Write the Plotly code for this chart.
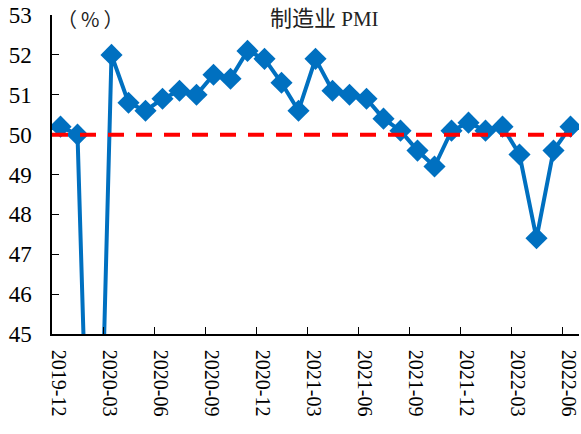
import plotly.graph_objects as go

months = ["2019-12", "2020-01", "2020-02", "2020-03", "2020-04", "2020-05", "2020-06",
          "2020-07", "2020-08", "2020-09", "2020-10", "2020-11", "2020-12",
          "2021-01", "2021-02", "2021-03", "2021-04", "2021-05", "2021-06",
          "2021-07", "2021-08", "2021-09", "2021-10", "2021-11", "2021-12",
          "2022-01", "2022-02", "2022-03", "2022-04", "2022-05", "2022-06"]
pmi = [50.2, 50.0, 35.7, 52.0, 50.8, 50.6, 50.9, 51.1, 51.0, 51.5, 51.4, 52.1, 51.9,
       51.3, 50.6, 51.9, 51.1, 51.0, 50.9, 50.4, 50.1, 49.6, 49.2, 50.1, 50.3,
       50.1, 50.2, 49.5, 47.4, 49.6, 50.2]
threshold = 50.0
y_ticks = [45, 46, 47, 48, 49, 50, 51, 52, 53]

SERIF = "Liberation Serif"

fig = go.Figure()
fig.add_trace(go.Scatter(
    x=months, y=pmi, mode="lines+markers",
    line=dict(color="#0070C0", width=4),
    marker=dict(symbol="diamond", size=17, color="#0070C0"),
    cliponaxis=True, showlegend=False))
fig.add_hline(y=threshold, x0=0, x1=0.987, layer="above",
              line=dict(color="#FF0000", width=4, dash="16px,12px"))

W = 581 - 52 - 2
H = 434 - 15 - 100
fig.update_layout(
    width=581, height=434,
    margin=dict(l=52, r=2, t=15, b=100),
    plot_bgcolor="white", paper_bgcolor="white",
    font=dict(family=SERIF, color="black"),
    annotations=[
        dict(text="制造业<span style='font-family:Liberation Serif;font-size:21px'> PMI</span>",
             x=(324 - 52) / W, y=(334 - 16) / H, xref="paper", yref="paper",
             xanchor="center", yanchor="middle",
             showarrow=False, font=dict(family="Noto Sans CJK SC", size=22, color="#222")),
        dict(text="（\u2009%\u2009）", x=(90 - 52) / W, y=(334 - 19) / H, xref="paper", yref="paper",
             xanchor="center", yanchor="middle",
             showarrow=False, font=dict(family="Noto Sans CJK SC", size=20, color="#222")),
    ],
)

fig.update_xaxes(
    type="category", range=[-0.5, len(months) - 0.5], automargin=False,
    tickmode="array", tickvals=months[::3], ticktext=months[::3],
    tickson="boundaries", ticks="inside", ticklen=7, tickcolor="black",
    tickangle=90, tickfont=dict(size=20, family=SERIF, color="black"),
    ticklabelstandoff=10, ticklabelshift=-2,
    showline=True, linecolor="black", linewidth=1.5, showgrid=False, zeroline=False)
fig.update_yaxes(
    range=[45, 53], tickvals=y_ticks, automargin=False,
    ticks="inside", ticklen=7, tickcolor="black",
    tickfont=dict(size=23, family=SERIF, color="black"),
    ticklabelstandoff=14,
    showline=True, linecolor="black", linewidth=1.5, showgrid=False, zeroline=False)

fig.write_html("out.html", config={"displayModeBar": False},
               post_script="document.body.style.margin='0';document.body.style.overflow='hidden';")
